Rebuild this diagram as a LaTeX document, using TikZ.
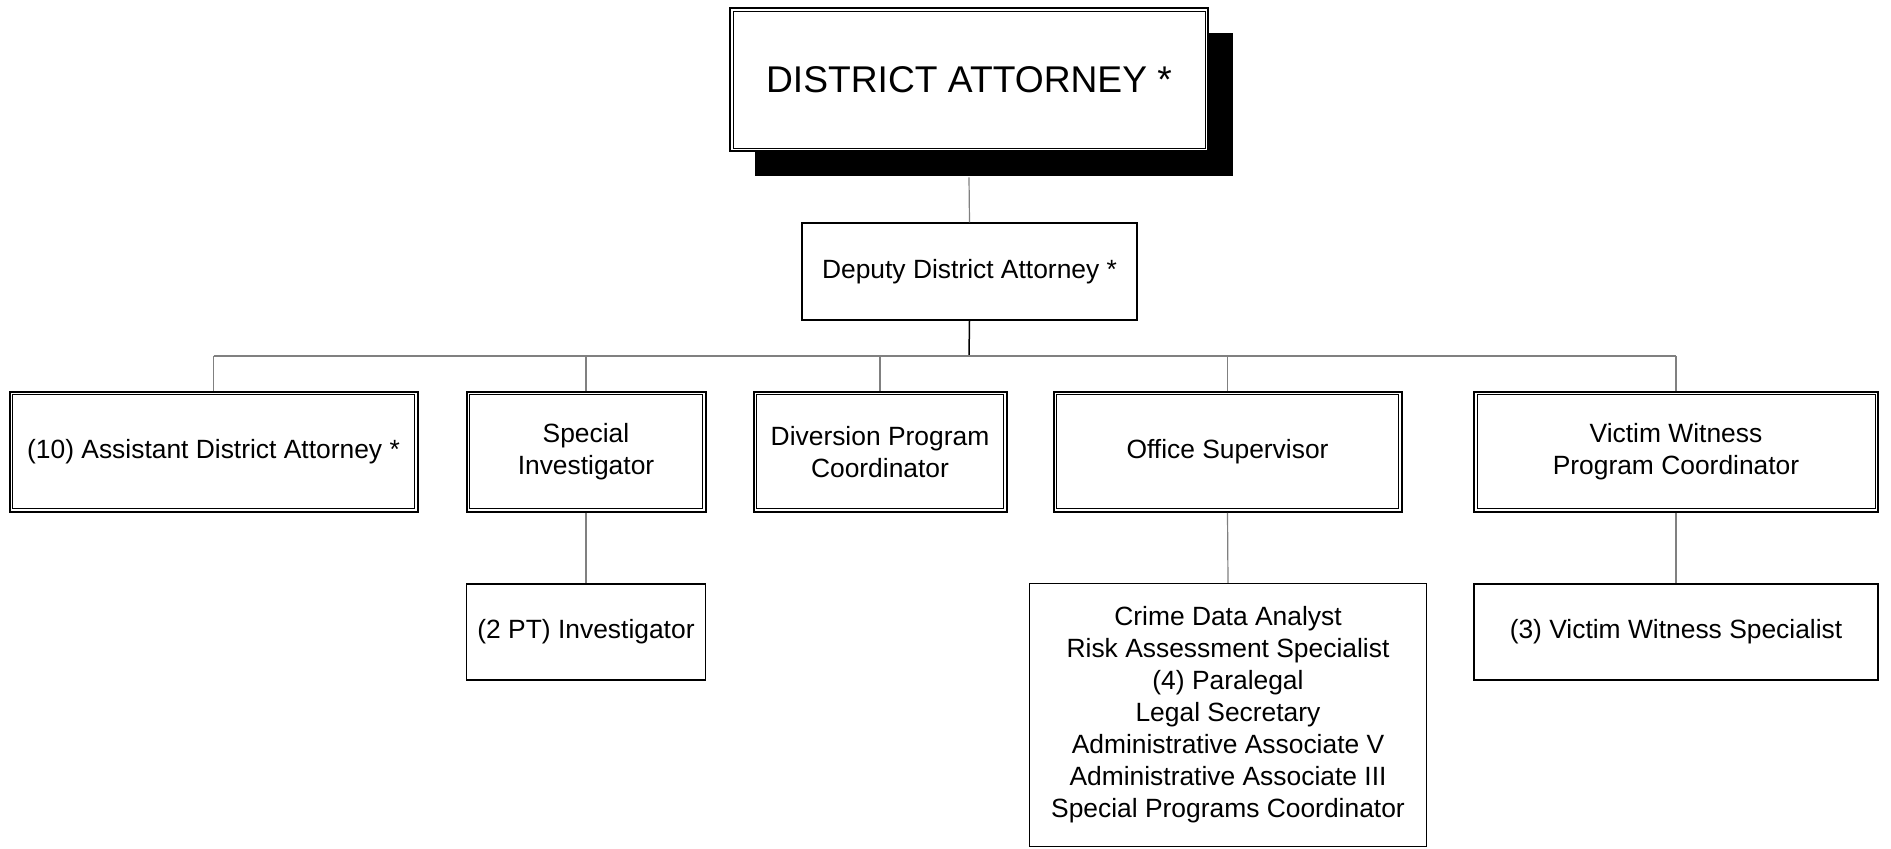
\documentclass[tikz,border=0pt]{standalone}
\usepackage{fontspec}
\setmainfont{Liberation Sans}
\usetikzlibrary{shadows}
\begin{document}
\begin{tikzpicture}[x=0.5pt,y=-0.5pt,
		post/.style={draw,fill=white,line width=0.65pt,align=center,inner sep=0pt,
			font=\fontsize{13.2}{16}\selectfont},
		chief/.style={post,line width=1pt},
		link/.style={draw=gray,line width=0.6pt},
		stem/.style={draw=black,line width=0.75pt}]
	\useasboundingbox (0,0) rectangle (1891,849);
	%\draw[help lines] (0,0) grid[step=100] (1891,849);
	\node[chief,minimum width=239pt,minimum height=71.5pt,font=\fontsize{18.6}{22}\selectfont,
		general shadow={fill=black,shadow xshift=12.5pt,shadow yshift=-12.5pt}] (da) at (969,80) {DISTRICT ATTORNEY *};
	\node[post,minimum width=167.5pt,minimum height=48.5pt] (dep) at (969.5,271.5) {Deputy District Attorney *};
	\node[chief,minimum width=204pt,minimum height=60pt] (asst) at (213.5,452) {(10) Assistant District Attorney *};
	\node[chief,minimum width=119.5pt,minimum height=60pt] (spinv) at (586,452) {Special\\Investigator};
	\node[chief,minimum width=126.5pt,minimum height=60pt] (divr) at (880,452) {Diversion Program\\Coordinator};
	\node[chief,minimum width=174pt,minimum height=60pt] (offsup) at (1227.5,452) {Office Supervisor};
	\node[chief,minimum width=202pt,minimum height=60pt] (vwpc) at (1676,452) {Victim Witness\\Program Coordinator};
	\node[post,minimum width=119.5pt,minimum height=48pt] (inv) at (586,632) {(2 PT) Investigator};
	\node[post,minimum width=198.5pt,minimum height=131.5pt] (staff) at (1228,715) {Crime Data Analyst\\Risk Assessment Specialist\\(4) Paralegal\\Legal Secretary\\ Administrative Associate V\\Administrative Associate III\\Special Programs Coordinator};
	\node[post,minimum width=202pt,minimum height=48pt] (vws) at (1676,632) {(3) Victim Witness Specialist};
	% inner lines of the double frames
	\foreach \n in {da,asst,spinv,divr,offsup,vwpc}
		\draw[line width=0.5pt] ([shift={(2pt,-2pt)}]\n.north west) rectangle ([shift={(-2pt,2pt)}]\n.south east);
	\coordinate (bus) at (969,356);
	\draw[link] ([yshift=-12.5pt]da.south) -- (dep.north);
	\draw[stem] (dep.south) -- (bus);
	\draw[link] (asst.north |- bus) -- (vwpc.north |- bus);
	\foreach \n in {asst,spinv,divr,offsup,vwpc}
		\draw[link] (\n.north |- bus) -- (\n.north);
	\draw[link] (spinv.south) -- (inv.north);
	\draw[link] (offsup.south) -- (staff.north);
	\draw[link] (vwpc.south) -- (vws.north);
\end{tikzpicture}
\end{document}
